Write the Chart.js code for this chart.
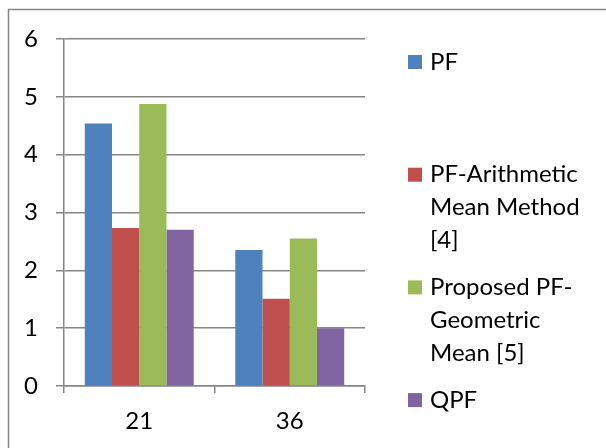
<!DOCTYPE html>
<html>
<head>
<meta charset="utf-8">
<script src="https://cdn.jsdelivr.net/npm/chart.js@4/dist/chart.umd.min.js"></script>
<style>
  html, body { margin: 0; padding: 0; background: #ffffff; }
  #wrap { width: 606px; height: 448px; position: relative; }
</style>
</head>
<body>
<div id="wrap"><canvas id="c" width="606" height="448"></canvas></div>
<script>
// Categories along the x axis
const categories = ['21', '36'];

// Series names, already broken into the lines shown in the legend
const seriesNames = [
  ['PF'],
  ['PF-Arithmetic', 'Mean Method', '[4]'],
  ['Proposed PF-', 'Geometric', 'Mean [5]'],
  ['QPF']
];

// Series values, one entry per category
const pfValues         = [4.54, 2.35];
const arithmeticValues = [2.73, 1.51];
const geometricValues  = [4.875, 2.55];
const qpfValues        = [2.70, 1.00];

// Value axis
const yMin = 0;
const yMax = 6;
const yStep = 1;

const seriesColors = ['#4F81BD', '#C0504D', '#9BBB59', '#8064A2'];
const seriesValues = [pfValues, arithmeticValues, geometricValues, qpfValues];

const FONT_FAMILY = 'Lato, "Open Sans", sans-serif';
const FONT_SIZE = 24;
const AXIS_GREY = '#868686';

// Outer frame of the chart (left and top edges)
const framePlugin = {
  id: 'frame',
  beforeDraw(chart) {
    const ctx = chart.ctx;
    ctx.save();
    ctx.strokeStyle = AXIS_GREY;
    ctx.lineWidth = 1.5;
    ctx.beginPath();
    ctx.moveTo(8.5, chart.height);
    ctx.lineTo(8.5, 9.5);
    ctx.lineTo(chart.width, 9.5);
    ctx.stroke();
    ctx.restore();
  }
};

// Legend on the right, with wrapped multi-line entries
const sideLegendPlugin = {
  id: 'sideLegend',
  afterDraw(chart) {
    const ctx = chart.ctx;
    const swatchX = 408;
    const swatchSize = 14;
    const textX = 430;
    const firstY = 62;
    const itemGap = 112.7;
    const lineHeight = 33;
    ctx.save();
    ctx.font = FONT_SIZE + 'px ' + FONT_FAMILY;
    ctx.textBaseline = 'middle';
    ctx.textAlign = 'left';
    chart.data.datasets.forEach((ds, i) => {
      const cy = firstY + i * itemGap;
      ctx.fillStyle = ds.backgroundColor;
      ctx.fillRect(swatchX, cy - swatchSize / 2, swatchSize, swatchSize);
      ctx.fillStyle = '#000000';
      ds.legendLines.forEach((line, j) => {
        ctx.fillText(line, textX, cy + j * lineHeight);
      });
    });
    ctx.restore();
  }
};

const datasets = seriesValues.map((vals, i) => ({
  label: seriesNames[i].join(' '),
  legendLines: seriesNames[i],
  data: vals,
  backgroundColor: seriesColors[i],
  borderWidth: 0,
  categoryPercentage: 0.724,
  barPercentage: 1.0
}));

new Chart(document.getElementById('c'), {
  type: 'bar',
  data: { labels: categories, datasets: datasets },
  plugins: [framePlugin, sideLegendPlugin],
  options: {
    responsive: false,
    devicePixelRatio: 1,
    animation: false,
    layout: { padding: { left: 8, right: 241, top: 39, bottom: 0 } },
    plugins: {
      legend: { display: false },
      tooltip: { enabled: false },
      title: { display: false }
    },
    scales: {
      x: {
        offset: true,
        grid: {
          offset: true,
          drawOnChartArea: false,
          drawTicks: true,
          tickLength: 7,
          color: AXIS_GREY,
          lineWidth: 1.5
        },
        border: { display: true, color: AXIS_GREY, width: 1.5 },
        ticks: {
          color: '#000000',
          padding: 14,
          font: { family: FONT_FAMILY, size: FONT_SIZE }
        },
        afterFit(scale) { scale.height = 62; }
      },
      y: {
        min: yMin,
        max: yMax,
        grid: {
          color: AXIS_GREY,
          lineWidth: 1.5,
          tickLength: 8,
          drawTicks: true
        },
        border: { display: true, color: AXIS_GREY, width: 1.5 },
        ticks: {
          stepSize: yStep,
          color: '#000000',
          padding: 18,
          font: { family: FONT_FAMILY, size: FONT_SIZE }
        },
        afterFit(scale) { scale.width = 56; }
      }
    }
  }
});
</script>
</body>
</html>
